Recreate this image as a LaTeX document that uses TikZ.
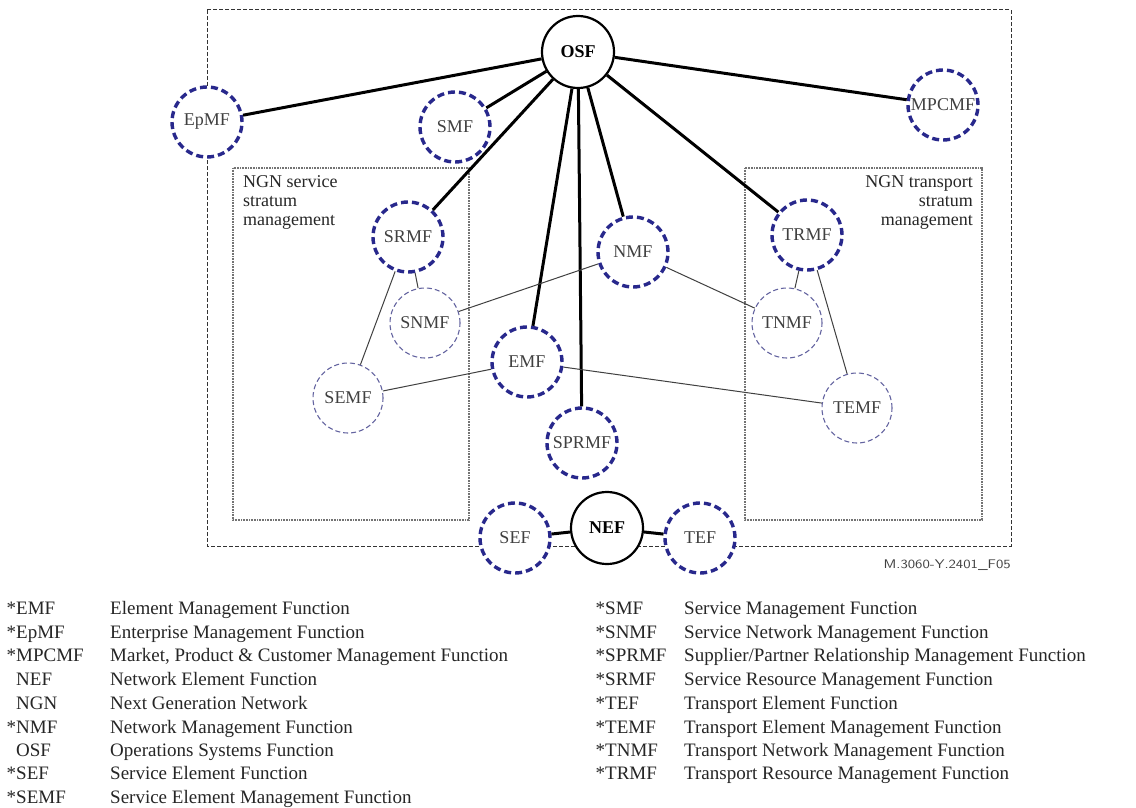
\documentclass[tikz,border=0pt]{standalone}
\usepackage{fontspec}
\setmainfont{Liberation Serif}
\begin{document}
\begin{tikzpicture}[x=1pt,y=-1pt,
  every node/.style={font=\fontsize{18}{19}\selectfont},
  major/.style={circle,draw=black,line width=2.2,fill=white,minimum size=72,inner sep=0,font=\fontsize{18}{19}\selectfont\bfseries},
  fn/.style={circle,draw=navyd,line width=3.4,dash pattern=on 7 off 4,fill=white,minimum size=70,inner sep=0,text=black!75},
  fnthin/.style={circle,draw=navyl,line width=1.1,dash pattern=on 5 off 3,fill=white,minimum size=70,inner sep=0,text=black!75},
  thick link/.style={draw=black,line width=3},
  thin link/.style={draw=black!75,line width=1},
  outerbox/.style={draw=black!80,line width=1,dash pattern=on 4 off 2},
  innerbox/.style={draw=black!55,line width=1.2,dash pattern=on 1 off 0.6},
  legend/.style={anchor=base west,inner sep=0,text=black!85,font=\fontsize{19}{20}\selectfont},
]
\definecolor{navyd}{RGB}{40,40,140}
\definecolor{navyl}{RGB}{100,100,160}
\useasboundingbox (0,0) rectangle (1136,808);
\fill[white] (0,0) rectangle (1136,808);

% boxes
\draw[outerbox] (207,10) rectangle (1011,546);
\draw[innerbox] (233,168) rectangle (469,520);
\draw[innerbox] (745,168) rectangle (982,520);

\node[anchor=north west,align=left,inner sep=0,text=black!85,font=\fontsize{18}{19}\selectfont] (svclbl) at (243,175) {NGN service\\stratum\\management};
\node[anchor=north east,align=right,inner sep=0,text=black!85,font=\fontsize{18}{19}\selectfont] (trlbl) at (973,175) {NGN transport\\stratum\\management};

% nodes
\node[major] (osf) at (578,52) {OSF};
\node[fn] (epmf) at (207,122) {EpMF};
\node[fn] (smf) at (455,127) {SMF};
\node[fn] (mpcmf) at (943,105) {MPCMF};
\node[fn] (srmf) at (408,237) {SRMF};
\node[fn] (nmf) at (633,252) {NMF};
\node[fnthin] (snmf) at (425,323) {SNMF};
\node[fn] (emf) at (527,362) {EMF};
\node[fnthin] (semf) at (348,398) {SEMF};
\node[fn] (sprmf) at (582,443) {SPRMF};
\node[fn] (trmf) at (807,235) {TRMF};
\node[fnthin] (tnmf) at (787,323) {TNMF};
\node[fnthin] (temf) at (857,408) {TEMF};
\node[fn] (sef) at (515,538) {SEF};
\node[major] (nef) at (607,528) {NEF};
\node[fn] (tef) at (700,538) {TEF};

% thick links
\draw[thick link] (osf) -- (epmf);
\draw[thick link] (osf) -- (smf);
\draw[thick link] (osf) -- (mpcmf);
\draw[thick link] (osf) -- (srmf);
\draw[thick link] (osf) -- (emf);
\draw[thick link] (osf) -- (sprmf);
\draw[thick link] (osf) -- (nmf);
\draw[thick link] (osf) -- (trmf);
\draw[thick link] (nef) -- (sef);
\draw[thick link] (nef) -- (tef);

% thin links
\draw[thin link] (srmf) -- (snmf);
\draw[thin link] (srmf) -- (semf);
\draw[thin link] (nmf) -- (snmf);
\draw[thin link] (nmf) -- (tnmf);
\draw[thin link] (emf) -- (semf);
\draw[thin link] (emf) -- (temf);
\draw[thin link] (trmf) -- (tnmf);
\draw[thin link] (trmf) -- (temf);

\node[anchor=base east,inner sep=0,xscale=1.2,font=\sffamily\fontsize{12.5}{13}\selectfont,text=black!75] (fig) at (1011,568) {M.3060-Y.2401\_F05};

% legend left
\foreach \ab/\ds/\yy [count=\i] in {%
  {\llap{*}EMF}/{Element Management Function}/614,
  {\llap{*}EpMF}/{Enterprise Management Function}/638,
  {\llap{*}MPCMF}/{Market, Product \& Customer Management Function}/661,
  {NEF}/{Network Element Function}/685,
  {NGN}/{Next Generation Network}/709,
  {\llap{*}NMF}/{Network Management Function}/733,
  {OSF}/{Operations Systems Function}/756,
  {\llap{*}SEF}/{Service Element Function}/779,
  {\llap{*}SEMF}/{Service Element Management Function}/803}{
  \node[legend] (la\i) at (16,\yy) {\ab};
  \node[legend] (ld\i) at (110,\yy) {\ds};
}
% legend right
\foreach \ab/\ds/\yy [count=\i] in {%
  {SMF}/{Service Management Function}/614,
  {SNMF}/{Service Network Management Function}/638,
  {SPRMF}/{Supplier/Partner Relationship Management Function}/661,
  {SRMF}/{Service Resource Management Function}/685,
  {TEF}/{Transport Element Function}/709,
  {TEMF}/{Transport Element Management Function}/733,
  {TNMF}/{Transport Network Management Function}/756,
  {TRMF}/{Transport Resource Management Function}/779}{
  \node[legend] (ra\i) at (605,\yy) {\llap{*}\ab};
  \node[legend] (rd\i) at (684,\yy) {\ds};
}
\end{tikzpicture}
\end{document}
